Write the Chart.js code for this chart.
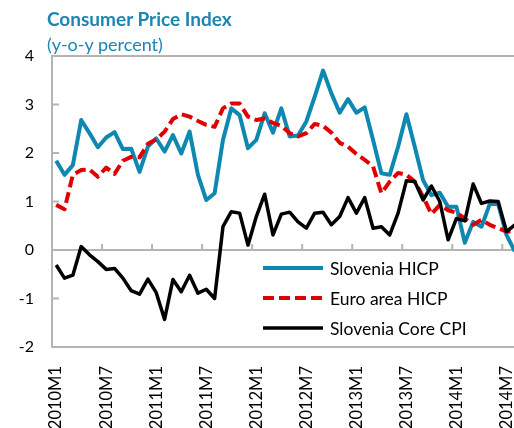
<!DOCTYPE html>
<html>
<head>
<meta charset="utf-8">
<script src="https://cdn.jsdelivr.net/npm/chart.js@4.4.0/dist/chart.umd.min.js"></script>
<style>
  html, body { margin: 0; padding: 0; background: #fff; overflow: hidden; }
  #wrap { position: relative; width: 514px; height: 428px; overflow: hidden; }
  #c { position: absolute; left: 0; top: 0; }
  .title { position: absolute; left: 47px; top: 7px; font: bold 19px Lato; color: #1a86b4; }
  .sub { position: absolute; left: 47px; top: 33px; font: 18px Lato; color: #1a86b4; }
</style>
</head>
<body>
<div id="wrap">
  <canvas id="c"></canvas>
  <div class="title">Consumer Price Index</div>
  <div class="sub">(y-o-y percent)</div>
</div>
<script>
// months 2010M1 .. 2014M8
const months = [];
for (let y = 2010; y <= 2014; y++) {
  for (let m = 1; m <= 12; m++) {
    if (y === 2014 && m > 8) break;
    months.push(y + "M" + m);
  }
}

const sloveniaHicp = [
  1.84, 1.55, 1.75, 2.68, 2.41, 2.12, 2.32, 2.43, 2.08, 2.09, 1.61, 2.13,
  2.30, 2.03, 2.37, 1.99, 2.44, 1.55, 1.03, 1.17, 2.27, 2.92, 2.78, 2.10,
  2.27, 2.82, 2.42, 2.92, 2.34, 2.36, 2.65, 3.16, 3.70, 3.23, 2.83, 3.11,
  2.83, 2.94, 2.27, 1.58, 1.55, 2.13, 2.80, 2.13, 1.44, 1.13, 1.18, 0.89,
  0.89, 0.15, 0.58, 0.48, 0.95, 0.95, 0.31, -0.03
];
const euroHicp = [
  0.93, 0.84, 1.55, 1.65, 1.66, 1.51, 1.70, 1.57, 1.84, 1.92, 1.91, 2.19,
  2.28, 2.44, 2.70, 2.80, 2.75, 2.66, 2.58, 2.54, 2.92, 3.02, 3.02, 2.75,
  2.68, 2.71, 2.62, 2.56, 2.41, 2.34, 2.41, 2.60, 2.56, 2.42, 2.21, 2.13,
  1.98, 1.86, 1.72, 1.17, 1.41, 1.59, 1.55, 1.41, 1.10, 0.74, 0.93, 0.82,
  0.77, 0.65, 0.52, 0.62, 0.52, 0.45, 0.38, 0.38
];
const sloveniaCore = [
  -0.31, -0.58, -0.52, 0.07, -0.10, -0.24, -0.40, -0.38, -0.58, -0.84, -0.91, -0.60,
  -0.88, -1.43, -0.61, -0.86, -0.52, -0.89, -0.81, -1.00, 0.48, 0.79, 0.76, 0.10,
  0.69, 1.15, 0.31, 0.74, 0.78, 0.58, 0.45, 0.76, 0.78, 0.52, 0.69, 1.08,
  0.76, 1.08, 0.45, 0.48, 0.31, 0.76, 1.43, 1.41, 1.03, 1.32, 1.00, 0.21,
  0.65, 0.60, 1.36, 0.96, 1.01, 1.00, 0.38, 0.52
];
const yTicks = [4, 3, 2, 1, 0, -1, -2];

const GRAY = "#b4b4b4";
Chart.defaults.font.family = "Lato";

// small tick marks + in-plot legend
const decor = {
  id: "decor",
  beforeDatasetsDraw(chart) {
    const { ctx, scales: { x, y } } = chart;
    ctx.save();
    ctx.strokeStyle = GRAY;
    ctx.lineWidth = 2;
    // y ticks pointing inwards
    yTicks.forEach(v => {
      const py = y.getPixelForValue(v);
      ctx.beginPath();
      ctx.moveTo(x.left, py);
      ctx.lineTo(x.left + 7, py);
      ctx.stroke();
    });
    // x ticks on the zero line, between M6 and M7 / M12 and M1
    const y0 = y.getPixelForValue(0);
    for (let i = 5; i < months.length - 1; i += 6) {
      const px = (x.getPixelForValue(i) + x.getPixelForValue(i + 1)) / 2;
      ctx.beginPath();
      ctx.moveTo(px, y0);
      ctx.lineTo(px, y0 - 6);
      ctx.stroke();
    }
    ctx.restore();
  },
  afterDatasetsDraw(chart) {
    const { ctx } = chart;
    ctx.save();
    ctx.font = "17.5px Lato";
    ctx.textBaseline = "middle";
    ctx.fillStyle = "#000";
    chart.data.datasets.forEach((ds, k) => {
      const ly = 268 + k * 30;
      ctx.beginPath();
      ctx.strokeStyle = ds.borderColor;
      ctx.lineWidth = ds.borderWidth;
      ctx.setLineDash(ds.borderDash || []);
      ctx.moveTo(263, ly);
      ctx.lineTo(323, ly);
      ctx.stroke();
      ctx.setLineDash([]);
      ctx.fillText(ds.label, 330, ly + 1);
    });
    ctx.restore();
  }
};

const canvas = document.getElementById("c");
canvas.width = 519;
canvas.height = 428;
canvas.style.width = "519px";
canvas.style.height = "428px";

new Chart(canvas.getContext("2d"), {
  type: "line",
  data: {
    labels: months,
    datasets: [
      { label: "Slovenia HICP", data: sloveniaHicp, borderColor: "#0e87b1", borderWidth: 4, order: 3 },
      { label: "Euro area HICP", data: euroHicp, borderColor: "#e00000", borderWidth: 4, borderDash: [11, 5], order: 2 },
      { label: "Slovenia Core CPI", data: sloveniaCore, borderColor: "#000000", borderWidth: 3.5, order: 1 }
    ]
  },
  options: {
    responsive: false,
    animation: false,
    elements: { point: { radius: 0 }, line: { tension: 0, borderJoinStyle: "round" } },
    layout: { padding: { top: 56, left: 0, right: 0, bottom: 0 } },
    plugins: { legend: { display: false }, tooltip: { enabled: false }, title: { display: false } },
    scales: {
      x: {
        offset: true,
        grid: { display: false },
        border: { display: true, color: GRAY, width: 2 },
        ticks: {
          autoSkip: false,
          minRotation: 90,
          maxRotation: 90,
          padding: 11,
          color: "#000",
          font: { size: 16.5 },
          callback: (v, i) => (i % 6 === 0 ? months[i] : "")
        },
        afterFit: s => { s.height = 81; s.paddingLeft = 0; s.paddingRight = 0; }
      },
      y: {
        min: -2,
        max: 4,
        grid: {
          drawTicks: false,
          lineWidth: 2,
          color: c => ([4, 0, -2].includes(c.tick.value) ? GRAY : "rgba(0,0,0,0)")
        },
        border: { display: true, color: GRAY, width: 2 },
        ticks: { stepSize: 1, padding: 18, color: "#000", font: { size: 16 } },
        afterFit: s => { s.width = 52; }
      }
    }
  },
  plugins: [decor]
});
</script>
</body>
</html>
